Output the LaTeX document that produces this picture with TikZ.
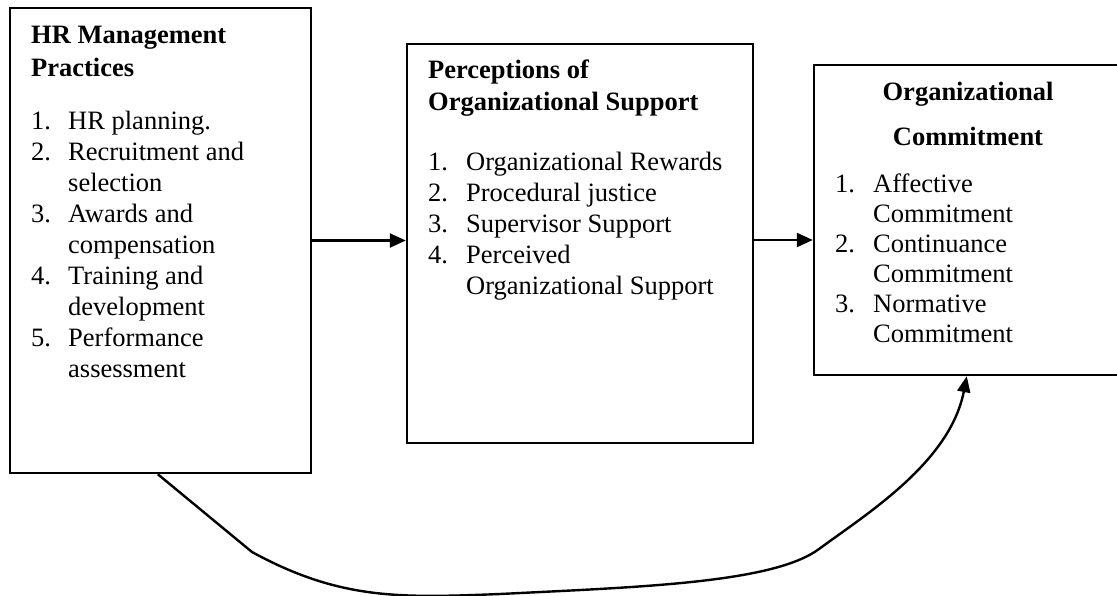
\documentclass[tikz,border=0pt]{standalone}
\usepackage{fontspec}
\setmainfont{Liberation Serif}
\usetikzlibrary{arrows.meta,calc}
\tikzset{
  box/.style={draw, line width=2.4pt, rectangle, inner sep=0pt},
  arr/.style={line width=2.4pt, -{Triangle[length=16pt,width=14pt]}},
  curvearr/.style={line width=2.4pt, -{Triangle[length=16pt,width=13pt]}},
  txt/.style={inner sep=0pt, anchor=base west, font=\fontsize{26.5pt}{31pt}\selectfont},
  hd/.style={inner sep=0pt, font=\fontsize{26.5pt}{33pt}\selectfont\bfseries},
}
\begin{document}
\begin{tikzpicture}[x=1pt,y=-1pt]
\useasboundingbox (0,0) rectangle (1117,595);
% boxes
\node[box, minimum width=301pt, minimum height=465pt] (b1) at (160.5,240.5) {};
\node[box, minimum width=346pt, minimum height=399pt] (b2) at (580,243.5) {};
\node[box, minimum width=311pt, minimum height=310pt] (b3) at (969.5,220) {};
% box 1 text
\node[hd, anchor=base west] (h1) at (31,43) {\begin{tabular}[t]{@{}l@{}}HR Management\\Practices\end{tabular}};
\node[txt] (l1) at (31,129) {\begin{tabular}[t]{@{}p{37pt}@{}l@{}}
1.&HR planning.\\
2.&Recruitment and\\
  &selection\\
3.&Awards and\\
  &compensation\\
4.&Training and\\
  &development\\
5.&Performance\\
  &assessment
\end{tabular}};
% box 2 text
\node[hd, anchor=base west, font=\fontsize{26.5pt}{32pt}\selectfont\bfseries] (h2) at (428,78) {\begin{tabular}[t]{@{}l@{}}Perceptions of\\Organizational Support\end{tabular}};
\node[txt] (l2) at (428,170) {\begin{tabular}[t]{@{}p{38pt}@{}l@{}}
1.&Organizational Rewards\\
2.&Procedural justice\\
3.&Supervisor Support\\
4.&Perceived\\
  &Organizational Support
\end{tabular}};
% box 3 text
\node[hd, anchor=base, font=\fontsize{26.5pt}{45pt}\selectfont\bfseries] (h3) at (968,100) {\begin{tabular}[t]{@{}c@{}}Organizational\\Commitment\end{tabular}};
\node[txt, font=\fontsize{26.5pt}{30pt}\selectfont] (l3) at (835,192) {\begin{tabular}[t]{@{}p{38pt}@{}l@{}}
1.&Affective\\
  &Commitment\\
2.&Continuance\\
  &Commitment\\
3.&Normative\\
  &Commitment
\end{tabular}};
% connectors
\draw[arr] (b1.east) -- (b1.east -| b2.west);
\coordinate (a2) at ($(b2.east)+(0,-3.5)$);
\draw[arr] (a2) -- (a2 -| b3.west);
\coordinate (cs) at ($(b1.south west)+(149,0)$);
\coordinate (ce) at ($(b3.south west)+(154,0)$);
\draw[curvearr] (cs) -- (252,552)
  .. controls (340,600) and (400,598) .. (500,594)
  .. controls (640,587) and (773,583) .. (819,549)
  .. controls (868,513) and (950,462) .. (ce);
\end{tikzpicture}
\end{document}
